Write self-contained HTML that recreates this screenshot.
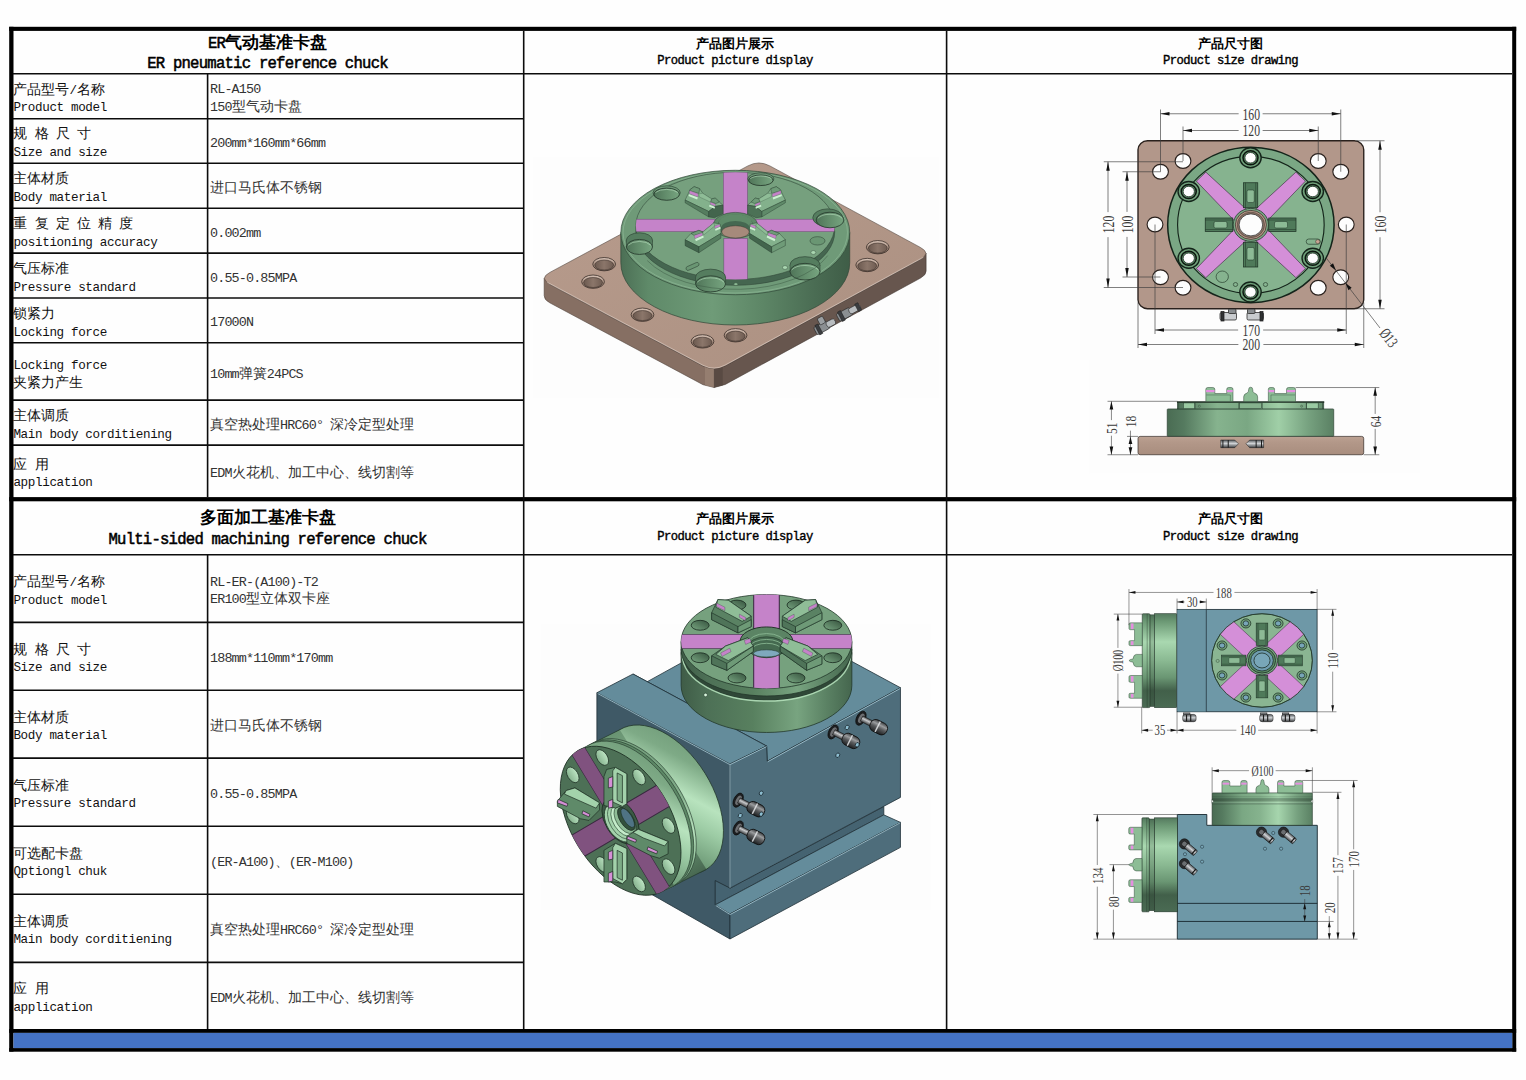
<!DOCTYPE html>
<html lang="zh"><head><meta charset="utf-8"><title>ER pneumatic reference chuck</title>
<style>
html,body{margin:0;padding:0}
body{width:1526px;height:1080px;position:relative;overflow:hidden;background:#fefefe;font-family:"Liberation Serif",serif;color:#000}
svg{position:absolute;overflow:visible}
.lb,.vl,.tt,.hd{position:absolute;white-space:nowrap}
.lb{font-size:14.4px;line-height:17.7px;color:#111}
.vl{font-size:14.4px;line-height:17.7px;color:#333}
.m{font-family:"Liberation Mono",monospace;font-size:12.6px;letter-spacing:-0.36px;line-height:1}
.vl .m{font-size:13.4px;letter-spacing:-0.84px}
.mt,.mb{line-height:1}
.tt{width:500px;text-align:center;font-size:17.2px;line-height:20.6px;font-weight:bold}
.mt{font-family:"Liberation Mono",monospace;font-size:15.6px;letter-spacing:-0.76px;font-weight:normal;-webkit-text-stroke:.5px #000}
.hd{width:500px;text-align:center;font-size:13.4px;line-height:16.6px;font-weight:bold}
.mb{font-family:"Liberation Mono",monospace;font-size:12.2px;letter-spacing:-0.56px;font-weight:normal;-webkit-text-stroke:.4px #000}
</style></head><body>
<svg id="grid" width="1526" height="1080" style="left:0;top:0" viewBox="0 0 1526 1080">
<rect x="9.2" y="26.8" width="4.3" height="1024.8" fill="#000"/>
<rect x="1512.2" y="26.8" width="4" height="1024.8" fill="#000"/>
<rect x="9.2" y="26.8" width="1507" height="4.1" fill="#000"/>
<rect x="9.2" y="497.1" width="1507" height="4.2" fill="#000"/>
<rect x="9.2" y="1029" width="1507" height="3.9" fill="#000"/>
<rect x="13.5" y="1032.9" width="1498.7" height="15.3" fill="#4472c4"/>
<rect x="9.2" y="1048.1" width="1507" height="3.6" fill="#000"/>
<line x1="523.7" y1="31" x2="523.7" y2="1029" stroke="#0c0c0c" stroke-width="1.6"/>
<line x1="946.6" y1="31" x2="946.6" y2="1029" stroke="#0c0c0c" stroke-width="1.6"/>
<line x1="207.6" y1="73.6" x2="207.6" y2="497" stroke="#0c0c0c" stroke-width="1.6"/>
<line x1="207.6" y1="554.7" x2="207.6" y2="1029" stroke="#0c0c0c" stroke-width="1.6"/>
<line x1="13" y1="73.7" x2="1512" y2="73.7" stroke="#0c0c0c" stroke-width="1.6"/>
<line x1="13" y1="554.8" x2="1512" y2="554.8" stroke="#0c0c0c" stroke-width="1.6"/>
<line x1="13" y1="118.7" x2="523.7" y2="118.7" stroke="#0c0c0c" stroke-width="1.6"/>
<line x1="13" y1="163.3" x2="523.7" y2="163.3" stroke="#0c0c0c" stroke-width="1.6"/>
<line x1="13" y1="208.2" x2="523.7" y2="208.2" stroke="#0c0c0c" stroke-width="1.6"/>
<line x1="13" y1="253.1" x2="523.7" y2="253.1" stroke="#0c0c0c" stroke-width="1.6"/>
<line x1="13" y1="298" x2="523.7" y2="298" stroke="#0c0c0c" stroke-width="1.6"/>
<line x1="13" y1="342.8" x2="523.7" y2="342.8" stroke="#0c0c0c" stroke-width="1.6"/>
<line x1="13" y1="400.1" x2="523.7" y2="400.1" stroke="#0c0c0c" stroke-width="1.6"/>
<line x1="13" y1="445.1" x2="523.7" y2="445.1" stroke="#0c0c0c" stroke-width="1.6"/>
<line x1="13" y1="622.4" x2="523.7" y2="622.4" stroke="#0c0c0c" stroke-width="1.6"/>
<line x1="13" y1="690.3" x2="523.7" y2="690.3" stroke="#0c0c0c" stroke-width="1.6"/>
<line x1="13" y1="758.1" x2="523.7" y2="758.1" stroke="#0c0c0c" stroke-width="1.6"/>
<line x1="13" y1="826.2" x2="523.7" y2="826.2" stroke="#0c0c0c" stroke-width="1.6"/>
<line x1="13" y1="894.3" x2="523.7" y2="894.3" stroke="#0c0c0c" stroke-width="1.6"/>
<line x1="13" y1="962.4" x2="523.7" y2="962.4" stroke="#0c0c0c" stroke-width="1.6"/>
</svg>
<svg style="left:525px;top:130px" width="420" height="300" viewBox="0 0 1512 1080">
<defs>
<linearGradient id="g1side" x1="345" y1="0" x2="1169" y2="0" gradientUnits="userSpaceOnUse">
<stop offset="0" stop-color="#4c6f55"/><stop offset=".12" stop-color="#5f8a69"/><stop offset=".4" stop-color="#6f9b78"/><stop offset=".62" stop-color="#5d8666"/><stop offset=".85" stop-color="#4a6c53"/><stop offset="1" stop-color="#3f5d47"/>
</linearGradient>
<linearGradient id="g1hole" x1="0" y1="0" x2="0" y2="1">
<stop offset="0" stop-color="#d9c6ba"/><stop offset=".5" stop-color="#a99081"/><stop offset="1" stop-color="#7d685d"/>
</linearGradient>
<linearGradient id="g1hin" x1="0" y1="0" x2="1" y2="0">
<stop offset="0" stop-color="#6b594f"/><stop offset=".5" stop-color="#8b766a"/><stop offset="1" stop-color="#6f5c52"/>
</linearGradient>
<linearGradient id="g1cb" x1="0" y1="0" x2="0" y2="1">
<stop offset="0" stop-color="#3a5742"/><stop offset=".5" stop-color="#557c5e"/><stop offset="1" stop-color="#7fab88"/>
</linearGradient>
<linearGradient id="g1hf" x1="0" y1="0" x2="1" y2="0"><stop offset="0" stop-color="#4f7458"/><stop offset=".45" stop-color="#628c6b"/><stop offset="1" stop-color="#77a580"/></linearGradient>
<linearGradient id="g1pl" x1="0" y1="0" x2="1" y2="1">
<stop offset="0" stop-color="#b89c8d"/><stop offset="1" stop-color="#ab9081"/>
</linearGradient>
<clipPath id="g1disc"><ellipse cx="757" cy="345" rx="358" ry="193"/></clipPath>
</defs>
<rect x="28" y="95" width="1462" height="870" fill="#fdfdfd"/>
<!-- plate sides -->
<path d="M69,534 L89,556 L641,850 L681,859 V927 L641,917 L89,622 Q69,612 69,596Z" fill="#866f63" stroke="#4a3d36" stroke-width="2"/>
<path d="M681,859 L721,849 L1424,466 L1444,444 V508 Q1444,522 1424,533 L721,916 L681,927Z" fill="#67564e" stroke="#3d322d" stroke-width="2"/>
<path d="M648,853 L681,859 V927 L648,919Z" fill="#9b8476" opacity=".7"/>
<path d="M681,859 L712,852 V920 L681,927Z" fill="#54463f" opacity=".7"/>
<!-- plate top -->
<path d="M89.600,555 Q50,534 89.600,512.700 L802.400,129.300 Q842,108 881.600,129.300 L1423.400,422.700 Q1463,444 1423.400,465.500 L720.600,848.500 Q681,870 641.400,848.900Z" fill="url(#g1pl)" stroke="#4a3d36" stroke-width="2"/>
<path d="M80,548 L641,847 Q681,868 721,846 L1434,458" fill="none" stroke="#e6d3c8" stroke-width="3" opacity=".8"/>
<!-- plate holes -->
<g stroke="#3f332d" stroke-width="3" fill="url(#g1hole)">
<ellipse cx="285" cy="483" rx="41" ry="24"/><ellipse cx="245" cy="546" rx="41" ry="24"/><ellipse cx="423" cy="665" rx="41" ry="24"/>
<ellipse cx="639" cy="761" rx="41" ry="24"/><ellipse cx="758" cy="739" rx="41" ry="24"/><ellipse cx="1270" cy="422" rx="41" ry="24"/><ellipse cx="1232" cy="486" rx="41" ry="24"/>
</g>
<g fill="url(#g1hin)" stroke="#3a2f2a" stroke-width="2">
<ellipse cx="285" cy="486" rx="34" ry="18"/><ellipse cx="245" cy="549" rx="34" ry="18"/><ellipse cx="423" cy="668" rx="34" ry="18"/>
<ellipse cx="639" cy="764" rx="34" ry="18"/><ellipse cx="758" cy="742" rx="34" ry="18"/><ellipse cx="1270" cy="425" rx="34" ry="18"/><ellipse cx="1232" cy="489" rx="34" ry="18"/>
</g>
<!-- cylinder body -->
<path d="M345,369 V478 A412,224 0 0 0 1169,478 V369Z" fill="url(#g1side)" stroke="#2f4536" stroke-width="2.500"/>
<ellipse cx="757" cy="369" rx="412" ry="224" fill="#6f9a78" stroke="#2f4536" stroke-width="2.500"/>
<ellipse cx="757" cy="369" rx="404" ry="218" fill="none" stroke="#a5cfac" stroke-width="2" opacity=".7"/>
<!-- raised disc wall + top -->
<ellipse cx="757" cy="366" rx="358" ry="193" fill="#456650" stroke="#2f4536" stroke-width="2"/>
<ellipse cx="757" cy="345" rx="358" ry="193" fill="#76a07e" stroke="#2f4536" stroke-width="2"/>
<!-- purple cross -->
<g clip-path="url(#g1disc)" fill="#c583c9" stroke="#5c3d63" stroke-width="1.500">
<rect x="714" y="140" width="87" height="166"/><rect x="716" y="390" width="85" height="160"/>
<rect x="380" y="321" width="325" height="45"/><rect x="812" y="321" width="324" height="45"/>
</g>
<!-- counterbores on rim -->
<ellipse cx="510" cy="226" rx="49" ry="25" fill="#6f9a78" stroke="#2f4536" stroke-width="2.5"/>
<ellipse cx="510" cy="231" rx="46" ry="22" fill="url(#g1hf)" stroke="#263a2c" stroke-width="3"/>
<path d="M470,225 A46,22 0 0 1 550,225" fill="none" stroke="#bfe6c5" stroke-width="2.5" opacity=".8"/>
<ellipse cx="849" cy="176" rx="47" ry="22" fill="#6f9a78" stroke="#2f4536" stroke-width="2.5"/>
<ellipse cx="849" cy="181" rx="44" ry="19" fill="url(#g1hf)" stroke="#263a2c" stroke-width="3"/>
<path d="M811,175 A44,19 0 0 1 887,175" fill="none" stroke="#bfe6c5" stroke-width="2.5" opacity=".8"/>
<ellipse cx="1090" cy="316" rx="54" ry="32" fill="#557d5f" stroke="#2f4536" stroke-width="2.5"/>
<ellipse cx="1098" cy="324" rx="50" ry="28" fill="url(#g1hf)" stroke="#263a2c" stroke-width="3"/>
<path d="M1054,318 A50,28 0 0 1 1142,318" fill="none" stroke="#bfe6c5" stroke-width="2.5" opacity=".8"/>
<ellipse cx="1008" cy="486" rx="54" ry="30" fill="#557d5f" stroke="#2f4536" stroke-width="2.5"/>
<rect x="954" y="486" width="108" height="24" fill="#557d5f"/>
<path d="M954,486V510M1062,486V510" stroke="#2f4536" stroke-width="2"/>
<ellipse cx="1008" cy="510" rx="54" ry="30" fill="url(#g1hf)" stroke="#263a2c" stroke-width="3"/>
<path d="M960,504 A54,30 0 0 1 1056,504" fill="none" stroke="#bfe6c5" stroke-width="2.5" opacity=".8"/>
<ellipse cx="668" cy="530" rx="54" ry="29" fill="#557d5f" stroke="#2f4536" stroke-width="2.5"/>
<rect x="614" y="530" width="108" height="24" fill="#557d5f"/>
<path d="M614,530V554M722,530V554" stroke="#2f4536" stroke-width="2"/>
<ellipse cx="668" cy="554" rx="54" ry="29" fill="url(#g1hf)" stroke="#263a2c" stroke-width="3"/>
<path d="M620,548 A54,29 0 0 1 716,548" fill="none" stroke="#bfe6c5" stroke-width="2.5" opacity=".8"/>
<ellipse cx="412" cy="397" rx="47" ry="27" fill="#557d5f" stroke="#2f4536" stroke-width="2.5"/>
<rect x="365" y="397" width="94" height="24" fill="#557d5f"/>
<path d="M365,397V421M459,397V421" stroke="#2f4536" stroke-width="2"/>
<ellipse cx="412" cy="421" rx="47" ry="27" fill="url(#g1hf)" stroke="#263a2c" stroke-width="3"/>
<path d="M371,415 A47,27 0 0 1 453,415" fill="none" stroke="#bfe6c5" stroke-width="2.5" opacity=".8"/>
<!-- small features -->
<ellipse cx="1053" cy="399" rx="27" ry="15" fill="#6a9673" stroke="#2f4536" stroke-width="2"/>
<ellipse cx="1038" cy="441" rx="9" ry="7" fill="#a9d6b0" stroke="#2f4536" stroke-width="1.500"/>
<ellipse cx="936" cy="495" rx="9" ry="7" fill="#a9d6b0" stroke="#2f4536" stroke-width="1.500"/>
<ellipse cx="759" cy="555" rx="7" ry="5" fill="#8dbb95" stroke="#2f4536" stroke-width="1.500"/>
<rect x="578" y="484" width="50" height="14" rx="7" transform="rotate(-24 603 491)" fill="#6a9673" stroke="#2f4536" stroke-width="2"/>
<path d="M440,470 A358,193 0 0 0 1090,452" fill="none" stroke="#3c5a45" stroke-width="3" opacity=".6"/>
<!-- hub + jaws in 6x coords -->
<g transform="translate(306,72) scale(.6)"><g transform="translate(420,180) scale(.4717)" stroke="#22372a" stroke-width="5" stroke-linejoin="round">
<ellipse cx="705" cy="575" rx="282" ry="163" fill="#5d8866" stroke-width="6"/>
<ellipse cx="705" cy="580" rx="222" ry="135" fill="#456851" stroke-width="5"/>
<path d="M490,560 A215,125 0 0 1 920,560 L880,600 A175,78 0 0 0 530,600Z" fill="#5f8b69" stroke="none"/>
<ellipse cx="705" cy="660" rx="175" ry="78" fill="#a68a7b" stroke="#2e2622" stroke-width="5"/>
<polygon points="65,255 130,120 180,85 250,110 290,170 400,240 450,230 500,280 545,320 450,335 365,400" fill="#83b18c"/>
<polygon points="65,255 365,400 365,470 65,290" fill="#557d5f"/>
<polygon points="365,400 450,335 545,320 545,430 440,480 365,470" fill="#43654d"/>
<polygon points="130,120 180,85 250,110 240,170 120,135" fill="#6f9b78"/>
<polygon points="120,135 230,175 230,215 120,175" fill="#c583c9" stroke-width="2"/>
<polygon points="115,182 228,222 218,248 108,204" fill="#cdf2d2" stroke="none"/>
<polygon points="385,280 450,305 450,335 385,310" fill="#c583c9" stroke-width="2"/>
<polygon points="375,316 445,342 440,366 370,338" fill="#cdf2d2" stroke="none"/>
<polygon points="400,240 450,230 500,280 455,300 390,275" fill="#6f9b78"/>
<polygon points="240,175 290,170 400,240 385,280 245,215" fill="#8fbd97" stroke-width="3"/>
<polygon points="65,760 140,680 240,640 290,660 430,545 510,560 520,600 520,680 240,850" fill="#83b18c"/>
<polygon points="65,760 240,850 240,925 65,835" fill="#43654d"/>
<polygon points="240,850 520,680 520,740 240,925" fill="#557d5f"/>
<polygon points="140,680 240,640 290,660 280,675 180,705" fill="#6f9b78"/>
<polygon points="180,705 280,672 290,702 190,747" fill="#c583c9" stroke-width="2"/>
<polygon points="192,752 296,706 302,732 202,778" fill="#cdf2d2" stroke="none"/>
<polygon points="440,586 505,562 510,592 445,617" fill="#c583c9" stroke-width="2"/>
<polygon points="446,622 512,596 516,620 452,646" fill="#cdf2d2" stroke="none"/>
<polygon points="290,662 430,548 440,586 300,700" fill="#8fbd97" stroke-width="3"/>
<polygon points="1340,255 1275,120 1225,85 1155,110 1115,170 1005,240 955,230 905,280 860,320 955,335 1040,400" fill="#83b18c"/>
<polygon points="1340,255 1040,400 1040,470 1340,290" fill="#5f8a69"/>
<polygon points="1040,400 955,335 860,320 860,430 965,480 1040,470" fill="#4c7156"/>
<polygon points="1275,120 1225,85 1155,110 1165,170 1285,135" fill="#6f9b78"/>
<polygon points="1285,135 1175,175 1175,215 1285,175" fill="#c583c9" stroke-width="2"/>
<polygon points="1290,182 1177,222 1187,248 1297,204" fill="#cdf2d2" stroke="none"/>
<polygon points="1020,280 955,305 955,335 1020,310" fill="#c583c9" stroke-width="2"/>
<polygon points="1030,316 960,342 965,366 1035,338" fill="#cdf2d2" stroke="none"/>
<polygon points="1005,240 955,230 905,280 950,300 1015,275" fill="#6f9b78"/>
<polygon points="1165,175 1115,170 1005,240 1020,280 1160,215" fill="#8fbd97" stroke-width="3"/>
<polygon points="1340,760 1265,680 1165,640 1115,660 975,545 895,560 885,600 885,680 1165,850" fill="#83b18c"/>
<polygon points="1340,760 1165,850 1165,925 1340,835" fill="#6f9b78"/>
<polygon points="1165,850 885,680 885,740 1165,925" fill="#43654d"/>
<polygon points="1265,680 1165,640 1115,660 1125,675 1225,705" fill="#6f9b78"/>
<polygon points="1225,705 1125,672 1115,702 1215,747" fill="#c583c9" stroke-width="2"/>
<polygon points="1213,752 1109,706 1103,732 1203,778" fill="#cdf2d2" stroke="none"/>
<polygon points="965,586 900,562 895,592 960,617" fill="#c583c9" stroke-width="2"/>
<polygon points="959,622 893,596 889,620 953,646" fill="#cdf2d2" stroke="none"/>
<polygon points="1115,662 975,548 965,586 1105,700" fill="#8fbd97" stroke-width="3"/>
</g></g>
<!-- fittings -->
<g stroke="#222" stroke-width="2">
<g transform="rotate(-28 1082 704)"><rect x="1040" y="690" width="52" height="30" rx="6" fill="#8b8f92"/><rect x="1048" y="686" width="12" height="38" fill="#3b3d40"/><rect x="1086" y="694" width="34" height="22" rx="8" fill="#b9bdc0"/><rect x="1066" y="668" width="22" height="26" rx="5" fill="#9a9ea1"/></g>
<g transform="rotate(-28 1166 652)"><rect x="1120" y="640" width="52" height="30" rx="6" fill="#8b8f92"/><rect x="1128" y="636" width="12" height="38" fill="#3b3d40"/><rect x="1166" y="644" width="44" height="22" rx="8" fill="#b9bdc0"/><rect x="1196" y="640" width="12" height="30" fill="#3b3d40"/></g>
</g>
</svg>

<svg style="left:1080px;top:90px" width="350" height="270" viewBox="0 0 1400 1080">
<rect x="0" y="0" width="1400" height="1080" fill="#fdfdfd"/>
<rect x="232" y="203" width="903" height="672" rx="38" ry="36" fill="#b2978a" stroke="#2a211d" stroke-width="5.5"/>
<ellipse cx="412.0" cy="284.0" rx="31.6" ry="29.5" fill="#fdfdfd" stroke="#2a211d" stroke-width="4.5"/>
<ellipse cx="322.0" cy="327.0" rx="31.6" ry="29.5" fill="#fdfdfd" stroke="#2a211d" stroke-width="4.5"/>
<ellipse cx="953.0" cy="284.0" rx="31.6" ry="29.5" fill="#fdfdfd" stroke="#2a211d" stroke-width="4.5"/>
<ellipse cx="1043.0" cy="327.0" rx="31.6" ry="29.5" fill="#fdfdfd" stroke="#2a211d" stroke-width="4.5"/>
<ellipse cx="300.0" cy="538.0" rx="31.6" ry="29.5" fill="#fdfdfd" stroke="#2a211d" stroke-width="4.5"/>
<ellipse cx="1065.0" cy="538.0" rx="31.6" ry="29.5" fill="#fdfdfd" stroke="#2a211d" stroke-width="4.5"/>
<ellipse cx="322.0" cy="749.0" rx="31.6" ry="29.5" fill="#fdfdfd" stroke="#2a211d" stroke-width="4.5"/>
<ellipse cx="412.0" cy="791.0" rx="31.6" ry="29.5" fill="#fdfdfd" stroke="#2a211d" stroke-width="4.5"/>
<ellipse cx="953.0" cy="791.0" rx="31.6" ry="29.5" fill="#fdfdfd" stroke="#2a211d" stroke-width="4.5"/>
<ellipse cx="1043.0" cy="749.0" rx="31.6" ry="29.5" fill="#fdfdfd" stroke="#2a211d" stroke-width="4.5"/>
<ellipse cx="683.5" cy="539.5" rx="332.8" ry="311.0" fill="#7aa784" stroke="#14241a" stroke-width="6"/>
<ellipse cx="683.5" cy="539.5" rx="293.2" ry="274.0" fill="#86b38f" stroke="#14241a" stroke-width="4.5"/>
<g fill="#d48fd8" stroke="#3b2a40" stroke-width="2.5">
<polygon points="503.5,328.5 465.5,364.5 631.5,537.5 678.5,489.5"/>
<polygon points="503.5,750.5 465.5,714.5 631.5,541.5 678.5,589.5"/>
<polygon points="863.5,328.5 901.5,364.5 735.5,537.5 688.5,489.5"/>
<polygon points="863.5,750.5 901.5,714.5 735.5,541.5 688.5,589.5"/>
</g>
<g fill="#4f7a5a" stroke="#1e3325" stroke-width="3">
<rect x="654" y="371" width="57" height="100"/><rect x="654" y="609" width="57" height="99"/>
<rect x="501" y="512" width="110" height="54"/><rect x="755" y="512" width="109" height="54"/>
</g>
<g fill="#8cba95" stroke="#1e3325" stroke-width="2">
<rect x="668" y="400" width="29" height="50" rx="6"/><rect x="668" y="630" width="29" height="50" rx="6"/>
<rect x="536" y="526" width="52" height="26" rx="6"/><rect x="778" y="526" width="52" height="26" rx="6"/>
</g>
<g stroke="#1e3325" stroke-width="2" fill="none">
<path d="M662,371V471M703,371V471M662,609V708M703,609V708M501,520H611M501,558H611M755,520H864M755,558H864"/>
</g>
<ellipse cx="683.5" cy="539.5" rx="70.6" ry="66.0" fill="#7aa784" stroke="#1e3325" stroke-width="3"/>
<ellipse cx="683.5" cy="539.5" rx="62.1" ry="58.0" fill="#b9998a" stroke="#3a302b" stroke-width="3"/>
<ellipse cx="683.5" cy="539.5" rx="54.6" ry="51.0" fill="#8a7266" stroke="#3a302b" stroke-width="2"/>
<ellipse cx="683.5" cy="539.5" rx="47.1" ry="44.0" fill="#fdfdfd" stroke="#2a2a2a" stroke-width="3"/>
<ellipse cx="682.0" cy="271.0" rx="42.8" ry="40.0" fill="#6f9f79" stroke="#14241a" stroke-width="5.5"/>
<ellipse cx="682.0" cy="271.0" rx="30.0" ry="28.0" fill="#5a8a65" stroke="#0c160f" stroke-width="6"/>
<ellipse cx="682.0" cy="271.0" rx="22.5" ry="21.0" fill="#fdfdfd" stroke="#14241a" stroke-width="3"/>
<ellipse cx="682.0" cy="808.0" rx="42.8" ry="40.0" fill="#6f9f79" stroke="#14241a" stroke-width="5.5"/>
<ellipse cx="682.0" cy="808.0" rx="30.0" ry="28.0" fill="#5a8a65" stroke="#0c160f" stroke-width="6"/>
<ellipse cx="682.0" cy="808.0" rx="22.5" ry="21.0" fill="#fdfdfd" stroke="#14241a" stroke-width="3"/>
<ellipse cx="435.0" cy="406.0" rx="42.8" ry="40.0" fill="#6f9f79" stroke="#14241a" stroke-width="5.5"/>
<ellipse cx="435.0" cy="406.0" rx="30.0" ry="28.0" fill="#5a8a65" stroke="#0c160f" stroke-width="6"/>
<ellipse cx="435.0" cy="406.0" rx="22.5" ry="21.0" fill="#fdfdfd" stroke="#14241a" stroke-width="3"/>
<ellipse cx="931.0" cy="406.0" rx="42.8" ry="40.0" fill="#6f9f79" stroke="#14241a" stroke-width="5.5"/>
<ellipse cx="931.0" cy="406.0" rx="30.0" ry="28.0" fill="#5a8a65" stroke="#0c160f" stroke-width="6"/>
<ellipse cx="931.0" cy="406.0" rx="22.5" ry="21.0" fill="#fdfdfd" stroke="#14241a" stroke-width="3"/>
<ellipse cx="435.0" cy="673.0" rx="42.8" ry="40.0" fill="#6f9f79" stroke="#14241a" stroke-width="5.5"/>
<ellipse cx="435.0" cy="673.0" rx="30.0" ry="28.0" fill="#5a8a65" stroke="#0c160f" stroke-width="6"/>
<ellipse cx="435.0" cy="673.0" rx="22.5" ry="21.0" fill="#fdfdfd" stroke="#14241a" stroke-width="3"/>
<ellipse cx="931.0" cy="673.0" rx="42.8" ry="40.0" fill="#6f9f79" stroke="#14241a" stroke-width="5.5"/>
<ellipse cx="931.0" cy="673.0" rx="30.0" ry="28.0" fill="#5a8a65" stroke="#0c160f" stroke-width="6"/>
<ellipse cx="931.0" cy="673.0" rx="22.5" ry="21.0" fill="#fdfdfd" stroke="#14241a" stroke-width="3"/>
<rect x="905" y="596" width="56" height="21" rx="10" fill="#86b38f" stroke="#1e3325" stroke-width="2.5"/>
<ellipse cx="951.0" cy="606.5" rx="8.6" ry="8.0" fill="#c9a594" stroke="#3a302b" stroke-width="2"/>
<ellipse cx="569.0" cy="747.0" rx="24.6" ry="23.0" fill="#86b38f" stroke="#1e3325" stroke-width="2.5"/>
<ellipse cx="622.0" cy="778.0" rx="8.6" ry="8.0" fill="#86b38f" stroke="#1e3325" stroke-width="2.5"/>
<ellipse cx="742.0" cy="778.0" rx="8.6" ry="8.0" fill="#86b38f" stroke="#1e3325" stroke-width="2.5"/>
<g stroke="#222" stroke-width="3">
<rect x="560" y="890" width="66" height="30" rx="6" fill="#c9cccf"/>
<rect x="564" y="886" width="12" height="38" fill="#2f3133"/>
<rect x="594" y="876" width="30" height="18" rx="4" fill="#8b8f92"/>
<rect x="668" y="890" width="66" height="30" rx="6" fill="#c9cccf"/>
<rect x="720" y="886" width="12" height="38" fill="#2f3133"/>
<rect x="670" y="876" width="30" height="18" rx="4" fill="#8b8f92"/>
</g>
<g stroke="#3a3a3a" stroke-width="2.6" fill="none">
<path d="M322,95H634.5 M730.5,95H1043"/>
<path d="M412,162H634.5 M730.5,162H953"/>
<path d="M300,960H632.5 M732.5,960H1065"/>
<path d="M232,1018H633.5 M733.5,1018H1135"/>
<path d="M112,287V488.5 M112,588.5V790"/>
<path d="M188,327V487.5 M188,587.5V748"/>
<path d="M1200,203V489 M1200,589V875"/>
<path d="M322,78V327 M1043,78V327 M412,146V284 M953,146V284"/>
<path d="M95,287H412 M95,790H412 M170,327H322 M170,748H322"/>
<path d="M1105,203H1218 M1105,875H1218"/>
<path d="M300,538V976 M1065,538V976 M232,850V1032 M1135,850V1032"/>
<path d="M985,672L1200,952"/>
</g>
<g fill="#111">
<polygon points="322.0,95.0 358.0,88.0 358.0,102.0"/>
<polygon points="1043.0,95.0 1007.0,102.0 1007.0,88.0"/>
<polygon points="412.0,162.0 448.0,155.0 448.0,169.0"/>
<polygon points="953.0,162.0 917.0,169.0 917.0,155.0"/>
<polygon points="300.0,960.0 336.0,953.0 336.0,967.0"/>
<polygon points="1065.0,960.0 1029.0,967.0 1029.0,953.0"/>
<polygon points="232.0,1018.0 268.0,1011.0 268.0,1025.0"/>
<polygon points="1135.0,1018.0 1099.0,1025.0 1099.0,1011.0"/>
<polygon points="112.0,287.0 119.0,323.0 105.0,323.0"/>
<polygon points="112.0,790.0 105.0,754.0 119.0,754.0"/>
<polygon points="188.0,327.0 195.0,363.0 181.0,363.0"/>
<polygon points="188.0,748.0 181.0,712.0 195.0,712.0"/>
<polygon points="1200.0,203.0 1207.0,239.0 1193.0,239.0"/>
<polygon points="1200.0,875.0 1193.0,839.0 1207.0,839.0"/>
<polygon points="1024.0,722.0 999.4,703.1 1012.1,693.3"/>
<polygon points="1062.0,772.0 1086.6,790.9 1073.9,800.7"/>
</g>
<g font-family="Liberation Serif, serif" font-size="64" fill="#3a3a3a" text-anchor="middle">
<text x="685" y="118" textLength="70" lengthAdjust="spacingAndGlyphs">160</text>
<text x="685" y="185" textLength="70" lengthAdjust="spacingAndGlyphs">120</text>
<text x="685" y="983" textLength="70" lengthAdjust="spacingAndGlyphs">170</text>
<text x="685" y="1041" textLength="70" lengthAdjust="spacingAndGlyphs">200</text>
<text x="135" y="538" transform="rotate(-90 135 538)" textLength="70" lengthAdjust="spacingAndGlyphs">120</text>
<text x="211" y="538" transform="rotate(-90 211 538)" textLength="70" lengthAdjust="spacingAndGlyphs">100</text>
<text x="1223" y="538" transform="rotate(-90 1223 538)" textLength="70" lengthAdjust="spacingAndGlyphs">160</text>
<text x="1218" y="1004" transform="rotate(52 1218 1004)" textLength="76" lengthAdjust="spacingAndGlyphs">Ø13</text>
</g>
</svg>
<svg style="left:1080px;top:360px" width="350" height="120" viewBox="0 0 1526 523">
<defs>
<linearGradient id="g3b" x1="58" y1="0" x2="1395" y2="0" gradientUnits="userSpaceOnUse">
<stop offset="0" stop-color="#4a6c53"/><stop offset=".1" stop-color="#557a5f"/><stop offset=".3" stop-color="#86b38e"/><stop offset=".48" stop-color="#7aa783"/><stop offset=".67" stop-color="#a0cfa7"/><stop offset=".85" stop-color="#76a17f"/><stop offset="1" stop-color="#5a8063"/>
</linearGradient>
<linearGradient id="g3p" x1="0" y1="0" x2="0" y2="1"><stop offset="0" stop-color="#bda293"/><stop offset=".3" stop-color="#b39889"/><stop offset="1" stop-color="#a88d7e"/></linearGradient>
<linearGradient id="g3f" x1="0" y1="0" x2="0" y2="1"><stop offset="0" stop-color="#55595c"/><stop offset=".45" stop-color="#d0d3d6"/><stop offset="1" stop-color="#3c3f42"/></linearGradient>
</defs>
<rect x="40" y="0" width="1440" height="495" fill="#fdfdfd"/>
<!-- plate -->
<rect x="253" y="333" width="984" height="80" rx="9" fill="url(#g3p)" stroke="#2e2622" stroke-width="3"/>
<g transform="translate(348.8,87.2) scale(.543)">
<!-- body -->
<rect x="58" y="232" width="1337" height="220" rx="6" fill="url(#g3b)" stroke="#22372a" stroke-width="5"/>
<!-- flange -->
<rect x="140" y="176" width="1175" height="56" fill="url(#g3b)" stroke="#22372a" stroke-width="5"/>
<rect x="136" y="172" width="1183" height="10" fill="#1c2a20"/>
<g fill="#9acaa2" stroke="#22372a" stroke-width="4">
<rect x="188" y="184" width="92" height="46"/><rect x="1178" y="184" width="92" height="46"/>
<rect x="640" y="184" width="175" height="46" fill="#86b38e"/>
</g>
<path d="M280,182V232M632,182V232M822,182V232M1175,182V232M150,182V232M1305,182V232" stroke="#22372a" stroke-width="4"/>
<circle cx="316" cy="210" r="8" fill="#7aa783" stroke="#22372a" stroke-width="3"/><circle cx="1137" cy="210" r="8" fill="#7aa783" stroke="#22372a" stroke-width="3"/>
<!-- jaws -->
<g fill="#8dbd96" stroke="#2b4333" stroke-width="4" stroke-linejoin="round">
<path d="M368,172V75Q368,60 384,60H424Q440,60 440,75V108H536V75Q536,60 550,60H572Q586,60 586,75V172Z"/>
<path d="M1088,172V75Q1088,60 1072,60H1032Q1016,60 1016,75V108H920V75Q920,60 906,60H884Q870,60 870,75V172Z"/>
<path d="M672,172V135Q672,112 700,104Q712,98 712,75Q712,58 728,58Q744,58 744,75Q744,98 756,104Q784,112 784,135V172Z"/>
</g>
<path d="M372,120H565M565,120V170M1084,120H891M891,120V170" stroke="#2b4333" stroke-width="3" fill="none"/>
<g fill="#e58fe0"><rect x="370" y="80" width="68" height="18"/><rect x="538" y="80" width="46" height="18"/><rect x="872" y="80" width="46" height="18"/><rect x="1018" y="80" width="68" height="18"/></g>
<!-- fittings -->
<g stroke="#1a1a1a" stroke-width="4">
<path d="M488,482H600L630,512L600,543H488Z" fill="url(#g3f)"/><path d="M832,482H720L690,512L720,543H832Z" fill="url(#g3f)"/>
<path d="M505,482V543M548,482V543M815,482V543M772,482V543" stroke-width="8"/>
</g>
</g>
<!-- dims -->
<g stroke="#3a3a3a" stroke-width="2.600" fill="none">
<path d="M120,180H425M120,413H253M137,180V262M137,330V413"/>
<path d="M205,333H253M220,308V413"/>
<path d="M940,120H1305M1237,413H1305M1287,120V235M1287,300V413"/>
</g>
<g fill="#111">
<polygon points="137,180 129,216 145,216"/><polygon points="137,413 129,377 145,377"/>
<polygon points="220,333 212,366 228,366"/><polygon points="220,413 212,380 228,380"/>
<polygon points="1287,120 1279,156 1295,156"/><polygon points="1287,413 1279,377 1295,377"/>
</g>
<g font-family="Liberation Serif, serif" font-size="66" fill="#3a3a3a" text-anchor="middle">
<text x="162" y="297" transform="rotate(-90 162 297)" textLength="50" lengthAdjust="spacingAndGlyphs">51</text>
<text x="245" y="268" transform="rotate(-90 245 268)" textLength="50" lengthAdjust="spacingAndGlyphs">18</text>
<text x="1312" y="268" transform="rotate(-90 1312 268)" textLength="50" lengthAdjust="spacingAndGlyphs">64</text>
</g>
</svg>

<svg style="left:530px;top:570px" width="410" height="390" viewBox="0 0 1135 1080">
<defs>
<linearGradient id="g4ts" x1="418" y1="0" x2="891" y2="0" gradientUnits="userSpaceOnUse">
<stop offset="0" stop-color="#3f5c47"/><stop offset=".15" stop-color="#4d7056"/><stop offset=".42" stop-color="#58805f"/><stop offset=".68" stop-color="#78a480"/><stop offset=".85" stop-color="#5b8264"/><stop offset="1" stop-color="#45664e"/>
</linearGradient>
<linearGradient id="g4ls" x1="250" y1="424" x2="486" y2="833" gradientUnits="userSpaceOnUse">
<stop offset="0" stop-color="#66906f"/><stop offset=".25" stop-color="#7eaa86"/><stop offset=".43" stop-color="#b8e3be"/><stop offset=".56" stop-color="#9ccba4"/><stop offset=".76" stop-color="#6c9875"/><stop offset="1" stop-color="#476750"/>
</linearGradient>
<linearGradient id="g4hl" x1="0" y1="0" x2="1" y2="1"><stop offset="0" stop-color="#79a682"/><stop offset="1" stop-color="#c9f0cf"/></linearGradient>
<linearGradient id="g4ht" x1="0" y1="0" x2="0" y2="1"><stop offset="0" stop-color="#3f5e47"/><stop offset="1" stop-color="#6f9b78"/></linearGradient>
<linearGradient id="g4fs" x1="0" y1="0" x2="0" y2="1"><stop offset="0" stop-color="#4a4c4e"/><stop offset=".4" stop-color="#c8cacc"/><stop offset="1" stop-color="#3a3c3e"/></linearGradient>
<linearGradient id="g4fb" x1="0" y1="0" x2="0" y2="1"><stop offset="0" stop-color="#3a3c3e"/><stop offset=".3" stop-color="#9a9c9e"/><stop offset=".55" stop-color="#5a5c5e"/><stop offset="1" stop-color="#1d1f21"/></linearGradient>
<clipPath id="g4c"><circle r="100"/></clipPath>
</defs>
<rect x="30" y="150" width="1080" height="790" fill="#fdfdfd"/>
<polygon points="185.0,340.0 553.6,537.4 553.6,881.1 512.9,860.4 512.9,927.3 553.6,952.6 553.6,1021.8 185.0,812.0" fill="#3f5966" stroke="#1f3038" stroke-width="2.2" stroke-linejoin="round"/>
<polygon points="553.6,881.1 979.6,655.1 979.6,678.1 512.9,927.3 512.9,860.4" fill="#456371" stroke="#1f3038" stroke-width="2.2" stroke-linejoin="round"/>
<polygon points="512.9,927.3 553.6,952.6 1025.7,698.9 979.6,678.1" fill="#648c9b" stroke="#1f3038" stroke-width="2.2" stroke-linejoin="round"/>
<polygon points="553.6,952.6 1025.7,698.9 1025.7,768.1 553.6,1021.8" fill="#4e6d7b" stroke="#1f3038" stroke-width="2.2" stroke-linejoin="round"/>
<polygon points="287.0,330.0 656.7,529.7 1025.7,326.0 656.0,126.3" fill="#648c9b" stroke="#1f3038" stroke-width="2.2" stroke-linejoin="round"/>
<polygon points="285.0,288.0 655.1,487.5 656.7,529.7 287.0,330.0" fill="#4e6d7b" stroke="#1f3038" stroke-width="2.2" stroke-linejoin="round"/>
<polygon points="185.0,340.0 285.0,288.0 655.1,487.5 553.6,537.4" fill="#648c9b" stroke="#1f3038" stroke-width="2.2" stroke-linejoin="round"/>
<polygon points="553.6,537.4 655.1,487.5 656.7,529.7 1025.7,326.0 1025.7,629.7 553.6,881.1" fill="#4e6d7b" stroke="#1f3038" stroke-width="2.2" stroke-linejoin="round"/>
<path d="M187,342L553.6,539L655,489M553.6,539V880M658,531L1025,328M554,954L1025,700M514,929L554,954" stroke="#b9deea" stroke-width="2.2" fill="none" opacity=".9"/>
<path d="M418.3,228.0 V320.0 A236.4,130.0 0 0 0 891.1,320.0 V228.0 Z" fill="url(#g4ts)" stroke="#22372a" stroke-width="2.2"/>
<path d="M418.3,219.0 V231.0 A236.4,130.0 0 0 0 891.1,231.0 V219.0 Z" fill="#2f4737" stroke="#22372a" stroke-width="2.2"/>
<path d="M421.3,233.0 A233.4,130.0 0 0 0 888.1,233.0" fill="none" stroke="#b4e0ba" stroke-width="4" opacity=".9"/>
<path d="M418.3,198.0 V219.0 A236.4,130.0 0 0 0 891.1,219.0 V198.0 Z" fill="url(#g4ts)" stroke="#22372a" stroke-width="2.2"/>
<ellipse cx="654.7" cy="198.0" rx="236.4" ry="130.0" fill="#76a17e" stroke="#22372a" stroke-width="2.2"/>
<circle cx="486" cy="346" r="5" fill="#d8f5dc" stroke="#22372a" stroke-width="1.5"/>
<g transform="matrix(1.671 .919 -1.671 .919 654.7 198.0)">
<g clip-path="url(#g4c)">
<g fill="#c583c9" stroke="#3a2840" stroke-width="1.2" vector-effect="non-scaling-stroke">
<rect x="-110" y="-15" width="220" height="30" transform="rotate(45)"/><rect x="-110" y="-15" width="220" height="30" transform="rotate(-45)"/>
</g></g>
<circle cx="79.4" cy="-30.5" r="10.5" fill="url(#g4ht)" stroke="#1c2e22" stroke-width="1.1"/>
<circle cx="79.4" cy="30.5" r="10.5" fill="url(#g4ht)" stroke="#1c2e22" stroke-width="1.1"/>
<circle cx="30.5" cy="79.4" r="10.5" fill="url(#g4ht)" stroke="#1c2e22" stroke-width="1.1"/>
<circle cx="-30.5" cy="79.4" r="10.5" fill="url(#g4ht)" stroke="#1c2e22" stroke-width="1.1"/>
<circle cx="-79.4" cy="30.5" r="10.5" fill="url(#g4ht)" stroke="#1c2e22" stroke-width="1.1"/>
<circle cx="-79.4" cy="-30.5" r="10.5" fill="url(#g4ht)" stroke="#1c2e22" stroke-width="1.1"/>
<circle cx="-30.5" cy="-79.4" r="10.5" fill="url(#g4ht)" stroke="#1c2e22" stroke-width="1.1"/>
<circle cx="30.5" cy="-79.4" r="10.5" fill="url(#g4ht)" stroke="#1c2e22" stroke-width="1.1"/>
<circle r="31" fill="#5b8464" stroke="#1c2e22" stroke-width="1.2"/>
</g>
<ellipse cx="654.7" cy="214" rx="52" ry="29" fill="#456a50" stroke="#1c2e22" stroke-width="1.5"/>
<path d="M603,205 A52,29 0 0 1 707,205 M606,214 A50,27 0 0 1 704,214 M610,222 A46,24 0 0 1 700,222" fill="none" stroke="#8fbd97" stroke-width="2.2"/>
<ellipse cx="654.7" cy="231" rx="36" ry="10" fill="#7fa9bd" stroke="#1c2e22" stroke-width="1.5"/>
<g transform="translate(387.5,41.5) scale(.3844)" stroke="#22372a" stroke-width="5" stroke-linejoin="round">
<polygon points="300,200 345,105 420,110 585,225 585,300 490,345 300,250" fill="#5a8263"/>
<polygon points="345,105 420,110 585,225 520,262 330,160" fill="#8fbd97"/>
<polygon points="300,200 490,300 490,345 300,250" fill="#4f7459"/>
<polygon points="490,300 585,250 585,300 490,345" fill="#6e9a77"/>
<polygon points="335,130 395,160 395,185 335,155" fill="#c583c9" stroke-width="2"/>
<polygon points="500,210 545,235 545,258 500,233" fill="#c583c9" stroke-width="2"/>
<polygon points="300,510 400,440 560,380 600,440 600,480 410,615 300,570" fill="#5a8263"/>
<polygon points="400,440 560,380 600,440 420,545 330,500" fill="#8fbd97"/>
<polygon points="300,510 410,565 410,615 300,570" fill="#4f7459"/>
<polygon points="410,565 600,440 600,480 410,615" fill="#6e9a77"/>
<polygon points="365,490 430,455 440,480 375,515" fill="#c583c9" stroke-width="2"/>
<polygon points="535,400 575,385 585,410 545,428" fill="#c583c9" stroke-width="2"/>
<polygon points="1094,200 1049,105 974,110 809,225 809,300 904,345 1094,250" fill="#5a8263"/>
<polygon points="1049,105 974,110 809,225 874,262 1064,160" fill="#8fbd97"/>
<polygon points="1094,200 904,300 904,345 1094,250" fill="#6e9a77"/>
<polygon points="904,300 809,250 809,300 904,345" fill="#4f7459"/>
<polygon points="1059,130 999,160 999,185 1059,155" fill="#c583c9" stroke-width="2"/>
<polygon points="894,210 849,235 849,258 894,233" fill="#c583c9" stroke-width="2"/>
<polygon points="1094,510 994,440 834,380 794,440 794,480 984,615 1094,570" fill="#5a8263"/>
<polygon points="994,440 834,380 794,440 974,545 1064,500" fill="#8fbd97"/>
<polygon points="1094,510 984,565 984,615 1094,570" fill="#6e9a77"/>
<polygon points="984,565 794,440 794,480 984,615" fill="#4f7459"/>
<polygon points="1029,490 964,455 954,480 1019,515" fill="#c583c9" stroke-width="2"/>
<polygon points="859,400 819,385 809,410 849,428" fill="#c583c9" stroke-width="2"/>
</g>
<ellipse cx="368.4" cy="635.6" rx="227.5" ry="137.0" transform="rotate(58.2 368.4 635.6)" fill="url(#g4ls)" stroke="#22372a" stroke-width="2"/>
<polygon points="166.2,483.5 248.5,442.3 488.3,828.9 406.0,870.1" fill="url(#g4ls)"/>
<path d="M130.9,501.1 L248.5,442.3 M370.7,887.7 L488.3,828.9" stroke="#22372a" stroke-width="2" fill="none"/>
<ellipse cx="293.1" cy="673.2" rx="227.5" ry="137.0" transform="rotate(58.2 293.1 673.2)" fill="url(#g4ls)" stroke="#22372a" stroke-width="1.6"/>
<ellipse cx="286.1" cy="676.8" rx="227.5" ry="137.0" transform="rotate(58.2 286.1 676.8)" fill="#5d8866" stroke="#22372a" stroke-width="1.6"/>
<ellipse cx="279.0" cy="680.3" rx="227.5" ry="137.0" transform="rotate(58.2 279.0 680.3)" fill="url(#g4ls)" stroke="#22372a" stroke-width="1.6"/>
<polygon points="130.9,501.1 159.1,487.0 398.9,873.6 370.7,887.7" fill="url(#g4ls)"/>
<ellipse cx="250.8" cy="694.4" rx="227.5" ry="137.0" transform="rotate(58.2 250.8 694.4)" fill="#4d7056" stroke="#1c2e22" stroke-width="2.2"/>
<g transform="matrix(1.671 .884 0 -1.865 250.8 694.4)">
<g clip-path="url(#g4c)">
<g fill="#80527f" stroke="#3a2840" stroke-width="1.2" vector-effect="non-scaling-stroke">
<rect x="-110" y="-15" width="220" height="30" transform="rotate(45)"/><rect x="-110" y="-15" width="220" height="30" transform="rotate(-45)"/>
</g></g>
<circle cx="79.4" cy="-30.5" r="10.5" fill="url(#g4hl)" stroke="#1c2e22" stroke-width="1.1"/>
<circle cx="79.4" cy="30.5" r="10.5" fill="url(#g4hl)" stroke="#1c2e22" stroke-width="1.1"/>
<circle cx="30.5" cy="79.4" r="10.5" fill="url(#g4hl)" stroke="#1c2e22" stroke-width="1.1"/>
<circle cx="-30.5" cy="79.4" r="10.5" fill="url(#g4hl)" stroke="#1c2e22" stroke-width="1.1"/>
<circle cx="-79.4" cy="30.5" r="10.5" fill="url(#g4hl)" stroke="#1c2e22" stroke-width="1.1"/>
<circle cx="-79.4" cy="-30.5" r="10.5" fill="url(#g4hl)" stroke="#1c2e22" stroke-width="1.1"/>
<circle cx="-30.5" cy="-79.4" r="10.5" fill="url(#g4hl)" stroke="#1c2e22" stroke-width="1.1"/>
<circle cx="30.5" cy="-79.4" r="10.5" fill="url(#g4hl)" stroke="#1c2e22" stroke-width="1.1"/>
<circle r="31" fill="#3c5a45" stroke="#1c2e22" stroke-width="1.2"/>
</g>
<g transform="translate(41.5,401.4) scale(.4869)" stroke-linejoin="round">
<ellipse cx="428" cy="612" rx="122" ry="76" transform="rotate(58 428 612)" fill="#a3d2ab" stroke="#1c2e22" stroke-width="4"/>
<ellipse cx="436" cy="607" rx="110" ry="66" transform="rotate(58 436 607)" fill="none" stroke="#3f5e47" stroke-width="4"/>
<ellipse cx="444" cy="602" rx="98" ry="56" transform="rotate(58 444 602)" fill="#c4ecca" stroke="#3f5e47" stroke-width="4"/>
<ellipse cx="452" cy="597" rx="86" ry="46" transform="rotate(58 452 597)" fill="#8fbd97" stroke="#3f5e47" stroke-width="4"/>
<ellipse cx="462" cy="591" rx="74" ry="36" transform="rotate(58 462 591)" fill="#33503c" stroke="#1c2e22" stroke-width="4"/>
<ellipse cx="470" cy="586" rx="62" ry="24" transform="rotate(58 470 586)" fill="#4f7384" stroke="#1c2e22" stroke-width="3"/>
<polygon points="335,350 350,310 400,298 465,335 465,505 400,530 335,515" fill="#5f8a69" stroke="#1c2e22" stroke-width="4"/>
<polygon points="385,318 400,298 465,335 465,505 440,520 385,495" fill="#a3d2ab" stroke="#1c2e22" stroke-width="4"/>
<polygon points="410,330 440,345 440,500 410,485" fill="#7dab86" stroke="#1c2e22" stroke-width="4"/>
<polygon points="360,360 385,350 385,410 360,415" fill="#d58fd6" stroke="#1c2e22" stroke-width="4"/><polygon points="360,490 385,480 385,525 360,530" fill="#d58fd6" stroke="#1c2e22" stroke-width="4"/>
<polygon points="335,770 400,730 465,760 465,935 440,960 400,950 335,950" fill="#5f8a69" stroke="#1c2e22" stroke-width="4"/>
<polygon points="385,755 400,730 465,760 465,935 440,960 385,930" fill="#a3d2ab" stroke="#1c2e22" stroke-width="4"/>
<polygon points="410,770 440,785 440,940 410,925" fill="#7dab86" stroke="#1c2e22" stroke-width="4"/>
<polygon points="360,780 385,770 385,820 360,825" fill="#d58fd6" stroke="#1c2e22" stroke-width="4"/><polygon points="360,900 385,890 385,945 360,950" fill="#d58fd6" stroke="#1c2e22" stroke-width="4"/>
<polygon points="70,490 120,430 170,415 310,500 310,540 250,600 200,590 70,520" fill="#5f8a69" stroke="#1c2e22" stroke-width="4"/>
<polygon points="120,430 170,415 310,500 290,530 110,450" fill="#a3d2ab" stroke="#1c2e22" stroke-width="4"/>
<polygon points="75,480 130,505 125,520 70,500" fill="#d58fd6" stroke="#1c2e22" stroke-width="4"/><polygon points="215,545 255,565 250,580 210,562" fill="#d58fd6" stroke="#1c2e22" stroke-width="4"/>
<polygon points="465,690 530,650 700,720 700,790 650,815 600,800 465,730" fill="#5f8a69" stroke="#1c2e22" stroke-width="4"/>
<polygon points="500,668 530,650 700,720 680,745 560,700" fill="#a3d2ab" stroke="#1c2e22" stroke-width="4"/>
<polygon points="470,690 520,710 515,725 465,705" fill="#d58fd6" stroke="#1c2e22" stroke-width="4"/><polygon points="585,750 640,775 635,790 580,768" fill="#d58fd6" stroke="#1c2e22" stroke-width="4"/>
</g>
<g transform="translate(866.0,462.0) rotate(27)">
<ellipse cx="-30" cy="0" rx="12" ry="21" fill="#1d1f21" stroke="#0c0c0c" stroke-width="2"/>
<ellipse cx="-29" cy="0" rx="7" ry="14" fill="#6e7073"/>
<rect x="-28" y="-8" width="34" height="16" fill="url(#g4fs)" stroke="#111" stroke-width="1.5"/>
<rect x="0" y="-17" width="50" height="34" rx="15" fill="url(#g4fb)" stroke="#0c0c0c" stroke-width="2.2"/>
<path d="M22,-16V16" stroke="#e4e6e8" stroke-width="4" opacity=".85"/>
</g>
<g transform="translate(943.0,424.0) rotate(27)">
<ellipse cx="-30" cy="0" rx="12" ry="21" fill="#1d1f21" stroke="#0c0c0c" stroke-width="2"/>
<ellipse cx="-29" cy="0" rx="7" ry="14" fill="#6e7073"/>
<rect x="-28" y="-8" width="34" height="16" fill="url(#g4fs)" stroke="#111" stroke-width="1.5"/>
<rect x="0" y="-17" width="50" height="34" rx="15" fill="url(#g4fb)" stroke="#0c0c0c" stroke-width="2.2"/>
<path d="M22,-16V16" stroke="#e4e6e8" stroke-width="4" opacity=".85"/>
</g>
<g transform="translate(603.0,651.0) rotate(27)">
<ellipse cx="-30" cy="0" rx="12" ry="21" fill="#1d1f21" stroke="#0c0c0c" stroke-width="2"/>
<ellipse cx="-29" cy="0" rx="7" ry="14" fill="#6e7073"/>
<rect x="-28" y="-8" width="34" height="16" fill="url(#g4fs)" stroke="#111" stroke-width="1.5"/>
<rect x="0" y="-17" width="50" height="34" rx="15" fill="url(#g4fb)" stroke="#0c0c0c" stroke-width="2.2"/>
<path d="M22,-16V16" stroke="#e4e6e8" stroke-width="4" opacity=".85"/>
</g>
<g transform="translate(603.0,728.0) rotate(27)">
<ellipse cx="-30" cy="0" rx="12" ry="21" fill="#1d1f21" stroke="#0c0c0c" stroke-width="2"/>
<ellipse cx="-29" cy="0" rx="7" ry="14" fill="#6e7073"/>
<rect x="-28" y="-8" width="34" height="16" fill="url(#g4fs)" stroke="#111" stroke-width="1.5"/>
<rect x="0" y="-17" width="50" height="34" rx="15" fill="url(#g4fb)" stroke="#0c0c0c" stroke-width="2.2"/>
<path d="M22,-16V16" stroke="#e4e6e8" stroke-width="4" opacity=".85"/>
</g>
<ellipse cx="878" cy="436" rx="5" ry="6.5" transform="rotate(30 878 436)" fill="#8dbdd0" stroke="#15232a" stroke-width="2"/>
<ellipse cx="906" cy="484" rx="5" ry="6.5" transform="rotate(30 906 484)" fill="#8dbdd0" stroke="#15232a" stroke-width="2"/>
<ellipse cx="852" cy="513" rx="5" ry="6.5" transform="rotate(30 852 513)" fill="#8dbdd0" stroke="#15232a" stroke-width="2"/>
<ellipse cx="640" cy="618" rx="5" ry="6.5" transform="rotate(30 640 618)" fill="#8dbdd0" stroke="#15232a" stroke-width="2"/>
<ellipse cx="582" cy="680" rx="5" ry="6.5" transform="rotate(30 582 680)" fill="#8dbdd0" stroke="#15232a" stroke-width="2"/>
<ellipse cx="640" cy="676" rx="5" ry="6.5" transform="rotate(30 640 676)" fill="#8dbdd0" stroke="#15232a" stroke-width="2"/>
</svg>
<svg style="left:1090px;top:570px" width="290" height="180" viewBox="0 0 1526 947">
<defs><linearGradient id="g5v" x1="0" y1="230" x2="0" y2="724" gradientUnits="userSpaceOnUse">
<stop offset="0" stop-color="#557a5f"/><stop offset=".08" stop-color="#6b9874"/><stop offset=".3" stop-color="#a9d8b0"/><stop offset=".5" stop-color="#8ab992"/><stop offset=".68" stop-color="#6a9673"/><stop offset=".82" stop-color="#42604a"/><stop offset="1" stop-color="#4a6b53"/>
</linearGradient><linearGradient id="g5f" x1="0" y1="0" x2="0" y2="1"><stop offset="0" stop-color="#55595c"/><stop offset=".45" stop-color="#d0d3d6"/><stop offset="1" stop-color="#3c3f42"/></linearGradient><clipPath id="g5c"><circle r="100"/></clipPath></defs>
<rect x="0" y="0" width="1526" height="947" fill="#fdfdfd"/>
<rect x="458" y="207" width="737" height="539" fill="#6e98a7" stroke="#16242b" stroke-width="4"/>
<rect x="460" y="209" width="152" height="535" fill="#6a94a3"/>
<path d="M612,207V746" stroke="#16242b" stroke-width="3.5"/>
<g stroke="#1a1a1a" stroke-width="3"><rect x="492" y="752" width="34" height="20" fill="#8b8f92"/><rect x="488" y="760" width="70" height="38" rx="12" fill="url(#g5f)"/><path d="M508,762V796M530,762V796" stroke-width="6"/></g>
<g stroke="#1a1a1a" stroke-width="3"><rect x="897" y="752" width="34" height="20" fill="#8b8f92"/><rect x="893" y="760" width="70" height="38" rx="12" fill="url(#g5f)"/><path d="M913,762V796M935,762V796" stroke-width="6"/></g>
<g stroke="#1a1a1a" stroke-width="3"><rect x="1012" y="752" width="34" height="20" fill="#8b8f92"/><rect x="1008" y="760" width="70" height="38" rx="12" fill="url(#g5f)"/><path d="M1028,762V796M1050,762V796" stroke-width="6"/></g>
<g transform="matrix(2.65 0 0 2.46 905 476)">
<circle r="100" fill="#8ab592" stroke="#1e3325" stroke-width="1.3"/>
<g clip-path="url(#g5c)" fill="#d48fd8" stroke="#3b2a40" stroke-width="1"><rect x="-110" y="-19" width="220" height="38" transform="rotate(45)"/><rect x="-110" y="-19" width="220" height="38" transform="rotate(-45)"/></g>
<circle r="100" fill="none" stroke="#1e3325" stroke-width="1.5"/>
<g fill="#4f7a5a" stroke="#1e3325" stroke-width="1.2"><rect x="-11.500" y="-80" width="23" height="48"/><rect x="-11.500" y="32" width="23" height="48"/><rect x="-80" y="-11.500" width="48" height="23"/><rect x="32" y="-11.500" width="48" height="23"/></g>
<g fill="#8cba95" stroke="#1e3325" stroke-width=".8"><rect x="-6" y="-66" width="12" height="22" rx="2"/><rect x="-6" y="44" width="12" height="22" rx="2"/><rect x="-66" y="-6" width="22" height="12" rx="2"/><rect x="44" y="-6" width="22" height="12" rx="2"/></g>
<path d="M-8,-80V-32M8,-80V-32M-8,32V80M8,32V80M-80,-8H-32M-80,8H-32M32,-8H80M32,8H80" stroke="#1e3325" stroke-width=".8" fill="none"/>
<circle r="31" fill="#7aa784" stroke="#1e3325" stroke-width="1.5"/><circle r="27" fill="#5a8a65" stroke="#14241a" stroke-width="1.5"/><circle r="22.500" fill="#6f9db0" stroke="#14241a" stroke-width="1.5"/><circle r="16" fill="#78a6b8" stroke="#14241a" stroke-width="1.5"/>
<circle cx="79.3" cy="-32.0" r="9.800" fill="#6f9f79" stroke="#14241a" stroke-width="1.4"/><circle cx="79.3" cy="-32.0" r="5.500" fill="#78a6b8" stroke="#14241a" stroke-width="1.4"/>
<circle cx="79.3" cy="32.0" r="9.800" fill="#6f9f79" stroke="#14241a" stroke-width="1.4"/><circle cx="79.3" cy="32.0" r="5.500" fill="#78a6b8" stroke="#14241a" stroke-width="1.4"/>
<circle cx="32.0" cy="79.3" r="9.800" fill="#6f9f79" stroke="#14241a" stroke-width="1.4"/><circle cx="32.0" cy="79.3" r="5.500" fill="#78a6b8" stroke="#14241a" stroke-width="1.4"/>
<circle cx="-32.0" cy="79.3" r="9.800" fill="#6f9f79" stroke="#14241a" stroke-width="1.4"/><circle cx="-32.0" cy="79.3" r="5.500" fill="#78a6b8" stroke="#14241a" stroke-width="1.4"/>
<circle cx="-79.3" cy="32.0" r="9.800" fill="#6f9f79" stroke="#14241a" stroke-width="1.4"/><circle cx="-79.3" cy="32.0" r="5.500" fill="#78a6b8" stroke="#14241a" stroke-width="1.4"/>
<circle cx="-79.3" cy="-32.0" r="9.800" fill="#6f9f79" stroke="#14241a" stroke-width="1.4"/><circle cx="-79.3" cy="-32.0" r="5.500" fill="#78a6b8" stroke="#14241a" stroke-width="1.4"/>
<circle cx="-32.0" cy="-79.3" r="9.800" fill="#6f9f79" stroke="#14241a" stroke-width="1.4"/><circle cx="-32.0" cy="-79.3" r="5.500" fill="#78a6b8" stroke="#14241a" stroke-width="1.4"/>
<circle cx="32.0" cy="-79.3" r="9.800" fill="#6f9f79" stroke="#14241a" stroke-width="1.4"/><circle cx="32.0" cy="-79.3" r="5.500" fill="#78a6b8" stroke="#14241a" stroke-width="1.4"/>
<circle cx="-88" cy="1" r="3.200" fill="#8ab592" stroke="#1e3325" stroke-width=".8"/>
</g>
<rect x="339" y="230" width="117" height="494" fill="url(#g5v)" stroke="#1f3226" stroke-width="3"/>
<rect x="315" y="236" width="24" height="482" fill="url(#g5v)" stroke="#1f3226" stroke-width="2.5"/>
<rect x="315" y="236" width="24" height="482" fill="#000" opacity=".12"/>
<rect x="275" y="230" width="40" height="494" rx="4" fill="url(#g5v)" stroke="#1f3226" stroke-width="3"/>
<path d="M301,230V724" stroke="#1f3226" stroke-width="2"/>
<path d="M275,278 H213 Q205,278 205,286 V308 Q205,314 213,314 H234.4 V371.6 H213 Q205,371.6 205,377.6 V392 Q205,398 213,398 H275 Z" fill="#8dbd96" stroke="#2b4333" stroke-width="2.5"/>
<rect x="215" y="281" width="14" height="30" fill="#e58fe0"/>
<rect x="215" y="374.6" width="14" height="20.4" fill="#e58fe0"/>
<path d="M275,555 H213 Q205,555 205,563 V585 Q205,591 213,591 H234.4 V648.6 H213 Q205,648.6 205,654.6 V669 Q205,675 213,675 H275 Z" fill="#8dbd96" stroke="#2b4333" stroke-width="2.5"/>
<rect x="215" y="558" width="14" height="30" fill="#e58fe0"/>
<rect x="215" y="651.6" width="14" height="20.4" fill="#e58fe0"/>
<path d="M275,444 H243.5 Q229.5,444 226,468.5 Q212,468.5 205,476.5 Q212,484.5 226,484.5 Q229.5,509 243.5,509 H275 Z" fill="#8dbd96" stroke="#2b4333" stroke-width="2.5"/>
<g stroke="#3a3a3a" stroke-width="2.800" fill="none">
<path d="M205,118H650M760,118H1195M205,100V290M1195,100V207"/>
<path d="M458,168H498M576,168H612M458,150V207M612,150V207"/>
<path d="M147,232V410M147,545V722M125,232H275M125,722H275"/>
<path d="M1277,207V420M1277,535V746M1195,207H1297M1195,746H1297"/>
<path d="M272,843H330M405,843H770M885,843H1195M272,722V860M458,746V860M1195,746V860"/>
</g><g fill="#111">
<polygon points="205.0,118.0 239.0,110.5 239.0,125.5"/>
<polygon points="1195.0,118.0 1161.0,125.5 1161.0,110.5"/>
<polygon points="458.0,168.0 492.0,160.5 492.0,175.5"/>
<polygon points="612.0,168.0 578.0,175.5 578.0,160.5"/>
<polygon points="147.0,232.0 154.5,266.0 139.5,266.0"/>
<polygon points="147.0,722.0 139.5,688.0 154.5,688.0"/>
<polygon points="1277.0,207.0 1284.5,241.0 1269.5,241.0"/>
<polygon points="1277.0,746.0 1269.5,712.0 1284.5,712.0"/>
<polygon points="272.0,843.0 306.0,835.5 306.0,850.5"/>
<polygon points="458.0,843.0 424.0,850.5 424.0,835.5"/>
<polygon points="458.0,843.0 492.0,835.5 492.0,850.5"/>
<polygon points="1195.0,843.0 1161.0,850.5 1161.0,835.5"/>
</g><g font-family="Liberation Serif, serif" fill="#3a3a3a" text-anchor="middle">
<text x="704" y="145" font-size="76" textLength="84" lengthAdjust="spacingAndGlyphs">188</text>
<text x="538" y="195" font-size="76" textLength="56" lengthAdjust="spacingAndGlyphs">30</text>
<text x="368" y="868" font-size="76" textLength="56" lengthAdjust="spacingAndGlyphs">35</text>
<text x="830" y="868" font-size="76" textLength="84" lengthAdjust="spacingAndGlyphs">140</text>
<text x="174" y="477" font-size="76" transform="rotate(-90 174 477)" textLength="112" lengthAdjust="spacingAndGlyphs">Ø100</text>
<text x="1305" y="476" font-size="76" transform="rotate(-90 1305 476)" textLength="84" lengthAdjust="spacingAndGlyphs">110</text>
</g></svg>
<svg style="left:1080px;top:750px" width="300" height="210" viewBox="0 0 1526 1068">
<defs><linearGradient id="g6v" x1="0" y1="345" x2="0" y2="823" gradientUnits="userSpaceOnUse">
<stop offset="0" stop-color="#557a5f"/><stop offset=".08" stop-color="#6b9874"/><stop offset=".3" stop-color="#a9d8b0"/><stop offset=".5" stop-color="#8ab992"/><stop offset=".68" stop-color="#6a9673"/><stop offset=".82" stop-color="#42604a"/><stop offset="1" stop-color="#4a6b53"/>
</linearGradient><linearGradient id="g6f" x1="0" y1="0" x2="0" y2="1"><stop offset="0" stop-color="#55595c"/><stop offset=".45" stop-color="#d0d3d6"/><stop offset="1" stop-color="#3c3f42"/></linearGradient><linearGradient id="g6h" x1="672" y1="0" x2="1182" y2="0" gradientUnits="userSpaceOnUse">
<stop offset="0" stop-color="#4a6c53"/><stop offset=".1" stop-color="#557a5f"/><stop offset=".3" stop-color="#7aa783"/><stop offset=".48" stop-color="#86b38e"/><stop offset=".66" stop-color="#a6d5ad"/><stop offset=".85" stop-color="#76a17f"/><stop offset="1" stop-color="#5a8063"/>
</linearGradient></defs>
<rect x="0" y="0" width="1526" height="1068" fill="#fdfdfd"/>
<polygon points="495,328 645,328 645,383 1207,383 1207,962 495,962" fill="#6e98a7" stroke="#16242b" stroke-width="4.500"/>
<path d="M495,780H1207M495,872H1207" stroke="#16242b" stroke-width="4.500"/>
<rect x="672" y="218" width="510" height="165" rx="3" fill="url(#g6h)" stroke="#1f3226" stroke-width="3"/>
<rect x="673" y="250" width="508" height="12" fill="#000" opacity=".22"/><rect x="673" y="262" width="508" height="11" fill="#fff" opacity=".08"/>
<path d="M672,248H1182M672,274H1182" stroke="#1f3226" stroke-width="2"/>
<path d="M670,252L680,261L670,270Z M1184,252L1174,261L1184,270Z" fill="#fdfdfd" stroke="#1f3226" stroke-width="1.5"/>
<path d="M672,238H1182" stroke="#1f3226" stroke-width="1.5" opacity=".6"/>
<g fill="#8dbd96" stroke="#2b4333" stroke-width="2.500" stroke-linejoin="round">
<path d="M722,218V165Q722,155 732,155H752Q762,155 762,165V183H818V165Q818,155 828,155H840Q850,155 850,165V218Z"/>
<path d="M1133,218V165Q1133,155 1123,155H1103Q1093,155 1093,165V183H1037V165Q1037,155 1027,155H1015Q1005,155 1005,165V218Z"/>
<path d="M895,218V198Q895,184 912,180Q920,176 920,162Q920,150 928,150Q936,150 936,162Q936,176 944,180Q961,184 961,198V218Z"/>
</g><g fill="#e58fe0"><rect x="725" y="166" width="35" height="10"/><rect x="820" y="166" width="28" height="10"/><rect x="1007" y="166" width="28" height="10"/><rect x="1095" y="166" width="36" height="10"/></g>
<rect x="378" y="345" width="117" height="478" fill="url(#g6v)" stroke="#1f3226" stroke-width="3"/>
<rect x="352" y="351" width="26" height="466" fill="url(#g6v)" stroke="#1f3226" stroke-width="2.5"/>
<rect x="352" y="351" width="26" height="466" fill="#000" opacity=".12"/>
<rect x="315" y="345" width="37" height="478" rx="4" fill="url(#g6v)" stroke="#1f3226" stroke-width="3"/>
<path d="M339.5,345V823" stroke="#1f3226" stroke-width="2"/>
<path d="M315,393 H256 Q248,393 248,401 V421.5 Q248,427.5 256,427.5 H276.14 V482.7 H256 Q248,482.7 248,488.7 V502 Q248,508 256,508 H315 Z" fill="#8dbd96" stroke="#2b4333" stroke-width="2.5"/>
<rect x="258" y="396" width="13.4" height="28.5" fill="#e58fe0"/>
<rect x="258" y="485.7" width="13.4" height="19.3" fill="#e58fe0"/>
<path d="M315,660 H256 Q248,660 248,668 V688.5 Q248,694.5 256,694.5 H276.14 V749.7 H256 Q248,749.7 248,755.7 V769 Q248,775 256,775 H315 Z" fill="#8dbd96" stroke="#2b4333" stroke-width="2.5"/>
<rect x="258" y="663" width="13.4" height="28.5" fill="#e58fe0"/>
<rect x="258" y="752.7" width="13.4" height="19.3" fill="#e58fe0"/>
<path d="M315,552 H284.85 Q271.45,552 268.1,575.5 Q254.7,575.5 248,583.5 Q254.7,591.5 268.1,591.5 Q271.45,615 284.85,615 H315 Z" fill="#8dbd96" stroke="#2b4333" stroke-width="2.5"/>
<g transform="translate(548,492) rotate(40)" stroke="#111" stroke-width="3"><circle cx="-22" cy="0" r="26" fill="#2a2c2e"/><circle cx="-22" cy="0" r="14" fill="#6b6e71"/><rect x="-10" y="-16" width="62" height="32" rx="5" fill="url(#g6f)"/><path d="M40,-16V16" stroke-width="6"/></g>
<g transform="translate(548,592) rotate(40)" stroke="#111" stroke-width="3"><circle cx="-22" cy="0" r="26" fill="#2a2c2e"/><circle cx="-22" cy="0" r="14" fill="#6b6e71"/><rect x="-10" y="-16" width="62" height="32" rx="5" fill="url(#g6f)"/><path d="M40,-16V16" stroke-width="6"/></g>
<g transform="translate(940,432) rotate(40)" stroke="#111" stroke-width="3"><circle cx="-22" cy="0" r="26" fill="#2a2c2e"/><circle cx="-22" cy="0" r="14" fill="#6b6e71"/><rect x="-10" y="-16" width="62" height="32" rx="5" fill="url(#g6f)"/><path d="M40,-16V16" stroke-width="6"/></g>
<g transform="translate(1052,432) rotate(40)" stroke="#111" stroke-width="3"><circle cx="-22" cy="0" r="26" fill="#2a2c2e"/><circle cx="-22" cy="0" r="14" fill="#6b6e71"/><rect x="-10" y="-16" width="62" height="32" rx="5" fill="url(#g6f)"/><path d="M40,-16V16" stroke-width="6"/></g>
<circle cx="621" cy="492" r="8" fill="#78a6b8" stroke="#16242b" stroke-width="2.500"/>
<circle cx="621" cy="568" r="8" fill="#78a6b8" stroke="#16242b" stroke-width="2.500"/>
<circle cx="534" cy="530" r="8" fill="#78a6b8" stroke="#16242b" stroke-width="2.500"/>
<circle cx="983" cy="422" r="8" fill="#78a6b8" stroke="#16242b" stroke-width="2.500"/>
<circle cx="941" cy="502" r="8" fill="#78a6b8" stroke="#16242b" stroke-width="2.500"/>
<circle cx="1023" cy="502" r="8" fill="#78a6b8" stroke="#16242b" stroke-width="2.500"/>
<g stroke="#3a3a3a" stroke-width="2.800" fill="none">
<path d="M672,105H860M995,105H1182M672,88V218M1182,88V218"/>
<path d="M88,328V585M88,695V962M68,328H495M68,962H495"/>
<path d="M170,583V735M170,812V962M150,583H250"/>
<path d="M1392,155V505M1392,610V962M1130,155H1412M1207,962H1412"/>
<path d="M1312,215V535M1312,640V962M1182,215H1330"/>
<path d="M1268,845V962M1207,872H1290"/>
<path d="M1143,758V872"/>
</g><g fill="#111">
<polygon points="672.0,105.0 706.0,97.5 706.0,112.5"/>
<polygon points="1182.0,105.0 1148.0,112.5 1148.0,97.5"/>
<polygon points="88.0,328.0 95.5,362.0 80.5,362.0"/>
<polygon points="88.0,962.0 80.5,928.0 95.5,928.0"/>
<polygon points="170.0,583.0 177.5,617.0 162.5,617.0"/>
<polygon points="170.0,962.0 162.5,928.0 177.5,928.0"/>
<polygon points="1392.0,155.0 1399.5,189.0 1384.5,189.0"/>
<polygon points="1392.0,962.0 1384.5,928.0 1399.5,928.0"/>
<polygon points="1312.0,215.0 1319.5,249.0 1304.5,249.0"/>
<polygon points="1312.0,962.0 1304.5,928.0 1319.5,928.0"/>
<polygon points="1268.0,872.0 1275.5,902.0 1260.5,902.0"/>
<polygon points="1268.0,962.0 1260.5,932.0 1275.5,932.0"/>
<polygon points="1143.0,780.0 1150.5,810.0 1135.5,810.0"/>
<polygon points="1143.0,872.0 1135.5,842.0 1150.5,842.0"/>
</g><g font-family="Liberation Serif, serif" fill="#3a3a3a" text-anchor="middle">
<text x="928" y="133" font-size="73" textLength="112" lengthAdjust="spacingAndGlyphs">Ø100</text>
<text x="115" y="640" font-size="73" transform="rotate(-90 115 640)" textLength="84" lengthAdjust="spacingAndGlyphs">134</text>
<text x="197" y="772" font-size="73" transform="rotate(-90 197 772)" textLength="56" lengthAdjust="spacingAndGlyphs">80</text>
<text x="1419" y="556" font-size="73" transform="rotate(-90 1419 556)" textLength="84" lengthAdjust="spacingAndGlyphs">170</text>
<text x="1339" y="588" font-size="73" transform="rotate(-90 1339 588)" textLength="84" lengthAdjust="spacingAndGlyphs">157</text>
<text x="1295" y="802" font-size="73" transform="rotate(-90 1295 802)" textLength="56" lengthAdjust="spacingAndGlyphs">20</text>
<text x="1170" y="716" font-size="73" transform="rotate(-90 1170 716)" textLength="56" lengthAdjust="spacingAndGlyphs">18</text>
</g></svg>

<div class="lb" style="left:13.4px;top:80.5px">产品型号<span class="m">/</span>名称<br><span class="m">Product model</span></div>
<div class="vl" style="left:210px;top:80.4px"><span class="m">RL-A150</span><br><span class="m">150</span>型气动卡盘</div>
<div class="lb" style="left:13.4px;top:125.4px">规<span class="m"> </span>格<span class="m"> </span>尺<span class="m"> </span>寸<br><span class="m">Size and size</span></div>
<div class="vl" style="left:210px;top:134.1px"><span class="m">200mm*160mm*66mm</span></div>
<div class="lb" style="left:13.4px;top:170.2px">主体材质<br><span class="m">Body material</span></div>
<div class="vl" style="left:210px;top:178.8px">进口马氏体不锈钢</div>
<div class="lb" style="left:13.4px;top:215.0px">重<span class="m"> </span>复<span class="m"> </span>定<span class="m"> </span>位<span class="m"> </span>精<span class="m"> </span>度<br><span class="m">positioning accuracy</span></div>
<div class="vl" style="left:210px;top:223.7px"><span class="m">0.002mm</span></div>
<div class="lb" style="left:13.4px;top:260.0px">气压标准<br><span class="m">Pressure standard</span></div>
<div class="vl" style="left:210px;top:268.6px"><span class="m">0.55-0.85MPA</span></div>
<div class="lb" style="left:13.4px;top:304.8px">锁紧力<br><span class="m">Locking force</span></div>
<div class="vl" style="left:210px;top:313.4px"><span class="m">17000N</span></div>
<div class="lb" style="left:13.4px;top:355.9px"><span class="m">Locking force</span><br>夹紧力产生</div>
<div class="vl" style="left:210px;top:364.5px"><span class="m">10mm</span>弹簧<span class="m">24PCS</span></div>
<div class="lb" style="left:13.4px;top:407.0px">主体调质<br><span class="m">Main body corditiening</span></div>
<div class="vl" style="left:210px;top:415.6px">真空热处理<span class="m">HRC60° </span>深冷定型处理</div>
<div class="lb" style="left:13.4px;top:455.5px">应<span class="m"> </span>用<br><span class="m">application</span></div>
<div class="vl" style="left:210px;top:464.1px"><span class="m">EDM</span>火花机、加工中心、线切割等</div>
<div class="lb" style="left:13.4px;top:572.9px">产品型号<span class="m">/</span>名称<br><span class="m">Product model</span></div>
<div class="vl" style="left:210px;top:572.7px"><span class="m">RL-ER-(A100)-T2</span><br><span class="m">ER100</span>型立体双卡座</div>
<div class="lb" style="left:13.4px;top:640.7px">规<span class="m"> </span>格<span class="m"> </span>尺<span class="m"> </span>寸<br><span class="m">Size and size</span></div>
<div class="vl" style="left:210px;top:649.4px"><span class="m">188mm*110mm*170mm</span></div>
<div class="lb" style="left:13.4px;top:708.6px">主体材质<br><span class="m">Body material</span></div>
<div class="vl" style="left:210px;top:717.2px">进口马氏体不锈钢</div>
<div class="lb" style="left:13.4px;top:776.6px">气压标准<br><span class="m">Pressure standard</span></div>
<div class="vl" style="left:210px;top:785.2px"><span class="m">0.55-0.85MPA</span></div>
<div class="lb" style="left:13.4px;top:844.6px">可选配卡盘<br><span class="m">Qptiongl chuk</span></div>
<div class="vl" style="left:210px;top:853.3px"><span class="m">(ER-A100)</span>、<span class="m">(ER-M100)</span></div>
<div class="lb" style="left:13.4px;top:912.7px">主体调质<br><span class="m">Main body corditiening</span></div>
<div class="vl" style="left:210px;top:921.4px">真空热处理<span class="m">HRC60° </span>深冷定型处理</div>
<div class="lb" style="left:13.4px;top:980.4px">应<span class="m"> </span>用<br><span class="m">application</span></div>
<div class="vl" style="left:210px;top:989.0px"><span class="m">EDM</span>火花机、加工中心、线切割等</div>
<div class="tt" style="left:17.5px;top:32.5px"><span class="mt">ER</span>气动基准卡盘<br><span class="mt">ER pneumatic reference chuck</span></div>
<div class="tt" style="left:17.5px;top:508.0px">多面加工基准卡盘<br><span class="mt">Multi-sided machining reference chuck</span></div>
<div class="hd" style="left:485px;top:35.5px">产品图片展示<br><span class="mb">Product picture display</span></div>
<div class="hd" style="left:980.5px;top:35.5px">产品尺寸图<br><span class="mb">Product size drawing</span></div>
<div class="hd" style="left:485px;top:511.0px">产品图片展示<br><span class="mb">Product picture display</span></div>
<div class="hd" style="left:980.5px;top:511.0px">产品尺寸图<br><span class="mb">Product size drawing</span></div>
</body></html>
